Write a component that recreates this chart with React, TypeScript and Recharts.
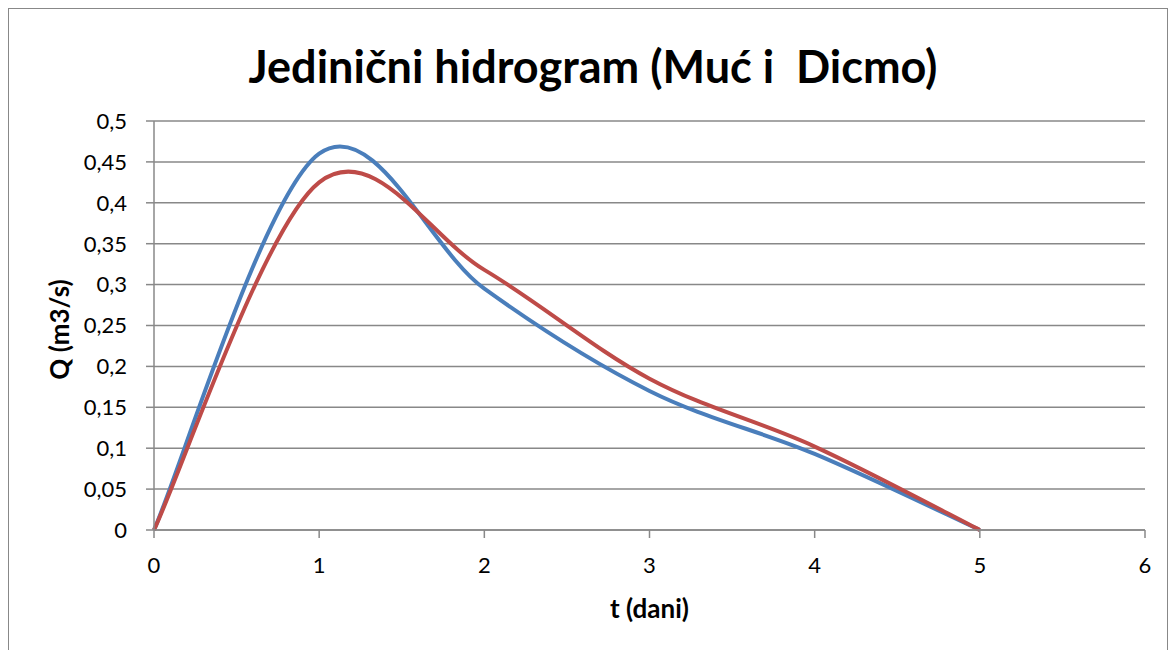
import { LineChart, Line, XAxis, YAxis, CartesianGrid } from "recharts";

const times = [0, 1, 2, 3, 4, 5];
const blueQ = [0, 0.46, 0.295, 0.17, 0.093, 0];
const redQ = [0, 0.425, 0.318, 0.185, 0.102, 0];
const xTicks = [0, 1, 2, 3, 4, 5, 6];
const yTicks = [0, 0.05, 0.1, 0.15, 0.2, 0.25, 0.3, 0.35, 0.4, 0.45, 0.5];

const data = times.map((t, i) => ({ t, blue: blueQ[i], red: redQ[i] }));

// Excel-like smoothing (cardinal spline, tension 0)
function excelCurve(context: any) {
  let pts: number[][] = [];
  return {
    areaStart() {},
    areaEnd() {},
    lineStart() {
      pts = [];
    },
    point(x: number, y: number) {
      pts.push([+x, +y]);
    },
    lineEnd() {
      const n = pts.length;
      if (!n) return;
      context.moveTo(pts[0][0], pts[0][1]);
      for (let i = 0; i < n - 1; i++) {
        const p0 = pts[i - 1] || pts[i];
        const p1 = pts[i];
        const p2 = pts[i + 1];
        const p3 = pts[i + 2] || p2;
        context.bezierCurveTo(
          p1[0] + (p2[0] - p0[0]) / 6,
          p1[1] + (p2[1] - p0[1]) / 6,
          p2[0] - (p3[0] - p1[0]) / 6,
          p2[1] - (p3[1] - p1[1]) / 6,
          p2[0],
          p2[1]
        );
      }
    },
  };
}

const font = "Lato, 'Open Sans', sans-serif";
const comma = (v: number) => String(v).replace(".", ",");

export default function App() {
  return (
    <div
      style={{
        position: "relative",
        width: 1160,
        height: 700,
        border: "1px solid #888",
        boxSizing: "border-box",
        background: "#fff",
        fontFamily: font,
      }}
    >
      <div
        style={{
          position: "absolute",
          top: 30,
          left: 0,
          width: 1168,
          textAlign: "center",
          fontSize: 45,
          fontWeight: 700,
          color: "#000",
          whiteSpace: "pre",
        }}
      >
        {"Jedinični hidrogram (Muć i  Dicmo)"}
      </div>
      <LineChart
        width={1158}
        height={640}
        data={data}
        margin={{ top: 112, right: 22, left: 25, bottom: 29 }}
        style={{ position: "absolute", top: 0, left: 0 }}
      >
        <CartesianGrid vertical={false} stroke="#888" strokeWidth={1.5} />
        <XAxis
          type="number"
          dataKey="t"
          domain={[0, 6]}
          ticks={xTicks}
          height={90}
          stroke="#888"
          strokeWidth={1.5}
          tickSize={8}
          tickMargin={19}
          tick={{ fontSize: 22, fill: "#000", fontFamily: font }}
          label={{
            value: "t (dani)",
            position: "insideBottom",
            offset: 2,
            style: { fontSize: 26, fontWeight: 700, fill: "#000", fontFamily: font },
          }}
        />
        <YAxis
          type="number"
          domain={[0, 0.5]}
          ticks={yTicks}
          width={120}
          stroke="#888"
          strokeWidth={1.5}
          tickSize={8}
          tickMargin={19}
          tickFormatter={comma}
          tick={{ fontSize: 22, fill: "#000", fontFamily: font }}
          label={{
            value: "Q (m3/s)",
            angle: -90,
            position: "center",
            dx: -34,
            dy: 4,
            style: { fontSize: 26, fontWeight: 700, fill: "#000", fontFamily: font, textAnchor: "middle" },
          }}
        />
        <Line
          dataKey="blue"
          name="Q1"
          type={excelCurve as any}
          stroke="#4A7EBB"
          strokeWidth={4}
          dot={false}
          isAnimationActive={false}
        />
        <Line
          dataKey="red"
          name="Q2"
          type={excelCurve as any}
          stroke="#BE4B48"
          strokeWidth={4}
          dot={false}
          isAnimationActive={false}
        />
      </LineChart>
    </div>
  );
}
